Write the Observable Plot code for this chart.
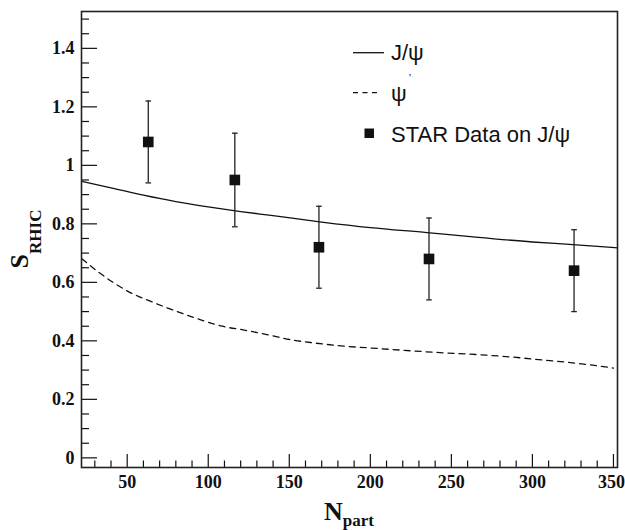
<!DOCTYPE html>
<html>
<head>
<meta charset="utf-8">
<script src="https://cdn.jsdelivr.net/npm/d3@7"></script>
<script src="https://cdn.jsdelivr.net/npm/@observablehq/plot@0.6"></script>
<style>
  body { margin: 0; background: #fff; }
</style>
</head>
<body>
<div id="chart"></div>
<script>
// ---- Data ----
// J/psi theory curve (solid)
const jpsiN = [22, 40, 60, 80, 100, 120, 140, 170, 200, 235, 260, 300, 325, 352.5];
const jpsiS = [0.945, 0.923, 0.898, 0.876, 0.858, 0.842, 0.828, 0.806, 0.787, 0.770, 0.757, 0.738, 0.729, 0.718];
// psi' theory curve (dashed)
const psiN = [22, 33.5, 40.7, 53, 65.4, 79.8, 94.2, 108.6, 123, 137.4, 150.8, 165, 183.7, 204.3, 224.8, 245.4, 266, 286.6, 307.2, 327.8, 350];
const psiS = [0.681, 0.630, 0.602, 0.562, 0.533, 0.502, 0.474, 0.450, 0.436, 0.420, 0.404, 0.393, 0.382, 0.374, 0.366, 0.359, 0.353, 0.345, 0.334, 0.323, 0.307];
// STAR data on J/psi
const starN  = [63, 116.4, 168.3, 236.2, 325.7];
const starS  = [1.08, 0.95, 0.72, 0.68, 0.64];
const starHi = [1.22, 1.11, 0.86, 0.82, 0.78];
const starLo = [0.94, 0.79, 0.58, 0.54, 0.50];
// axes ticks
const xMajor = [50, 100, 150, 200, 250, 300, 350];
const xMinor = [30, 40, 60, 70, 80, 90, 110, 120, 130, 140, 160, 170, 180, 190, 210, 220, 230, 240, 260, 270, 280, 290, 310, 320, 330, 340];
const yMajor = [0, 0.2, 0.4, 0.6, 0.8, 1, 1.2, 1.4];
const yMinor = [0.05, 0.1, 0.15, 0.25, 0.3, 0.35, 0.45, 0.5, 0.55, 0.65, 0.7, 0.75, 0.85, 0.9, 0.95, 1.05, 1.1, 1.15, 1.25, 1.3, 1.35, 1.45, 1.5];
const legendLabels = ["J/ψ", "ψ", "STAR Data on J/ψ"];
const xTitle = ["N", "part"];
const yTitle = ["S", "RHIC"];

// ---- Build tables ----
const jpsi = jpsiN.map((n, i) => ({n, s: jpsiS[i]}));
const psi = psiN.map((n, i) => ({n, s: psiS[i]}));
const star = starN.map((n, i) => ({n, s: starS[i], hi: starHi[i], lo: starLo[i]}));

const W = 625, H = 530, mL = 81, mR = 8, mT = 11, mB = 63;
const pw = W - mL - mR, ph = H - mT - mB;
const ink = "#111";
const serif = "'Liberation Serif', 'Times New Roman', serif";
const sans = "'Liberation Sans', Arial, sans-serif";

const capSymbol = {
  draw(ctx, size) {
    const h = Math.sqrt(size / Math.PI);
    ctx.moveTo(-h, 0);
    ctx.lineTo(h, 0);
  }
};

const chart = Plot.plot({
  width: W, height: H,
  marginLeft: mL, marginRight: mR, marginTop: mT, marginBottom: mB,
  style: {fontFamily: serif, fontWeight: "bold", fontSize: "18px", color: ink, background: "#fff", overflow: "visible"},
  x: {domain: [21.8, 352.5]},
  y: {domain: [-0.033, 1.526]},
  marks: [
    Plot.tickX(xMinor, {x: d => d, insetTop: ph - 6.5, stroke: ink, strokeWidth: 1.2}),
    Plot.tickX(xMajor, {x: d => d, insetTop: ph - 13, stroke: ink, strokeWidth: 1.2}),
    Plot.tickY(yMinor, {y: d => d, insetRight: pw - 8, stroke: ink, strokeWidth: 1.2}),
    Plot.tickY(yMajor, {y: d => d, insetRight: pw - 16, stroke: ink, strokeWidth: 1.2}),
    Plot.axisX({ticks: xMajor.slice(0, -1), tickSize: 0, tickPadding: 8, tickFormat: d => String(d), label: null, fontSize: 18, fontWeight: "bold"}),
    Plot.axisX({ticks: xMajor.slice(-1), tickSize: 0, tickPadding: 8, dx: -2, tickFormat: d => String(d), label: null, fontSize: 18, fontWeight: "bold"}),
    Plot.axisY({ticks: yMajor, tickSize: 0, tickPadding: 7, tickFormat: d => String(+d.toFixed(2)), label: null, fontSize: 18, fontWeight: "bold"}),
    Plot.line(jpsi, {x: "n", y: "s", stroke: ink, strokeWidth: 1.3, curve: "monotone-x"}),
    Plot.line(psi, {x: "n", y: "s", stroke: ink, strokeWidth: 1.3, strokeDasharray: "6,5", curve: "monotone-x"}),
    Plot.ruleX(star, {x: "n", y1: "lo", y2: "hi", stroke: "#222", strokeWidth: 1.3}),
    Plot.dot(star, {x: "n", y: "hi", symbol: capSymbol, r: 2.8, stroke: "#222", strokeWidth: 1.3}),
    Plot.dot(star, {x: "n", y: "lo", symbol: capSymbol, r: 2.8, stroke: "#222", strokeWidth: 1.3}),
    Plot.dot(star, {x: "n", y: "s", symbol: "square", r: 6, fill: ink, stroke: "none"}),
    Plot.frame({stroke: "#222", strokeWidth: 1.6})
  ]
});

const svg = d3.select(chart);

// X title: N_part
const xt = svg.append("text")
  .attr("x", mL + pw / 2).attr("y", 520)
  .attr("text-anchor", "middle").attr("font-weight", "bold").attr("fill", ink)
  .style("font-family", serif);
xt.append("tspan").attr("font-size", 26).text(xTitle[0]);
xt.append("tspan").attr("font-size", 17).attr("dy", 6).text(xTitle[1]);

// Y title: S_RHIC
const yt = svg.append("text")
  .attr("transform", `translate(27.5, ${mT + ph / 2}) rotate(-90)`)
  .attr("text-anchor", "middle").attr("font-weight", "bold").attr("fill", ink)
  .style("font-family", serif);
yt.append("tspan").attr("font-size", 26).text(yTitle[0]);
yt.append("tspan").attr("font-size", 17).attr("dy", 13).text(yTitle[1]);

// Legend
const lg = svg.append("g").attr("fill", ink)
  .attr("text-anchor", "start").attr("font-weight", "normal")
  .style("font-family", sans).style("font-weight", "normal");
lg.append("line").attr("x1", 353).attr("x2", 384).attr("y1", 52.7).attr("y2", 52.7)
  .attr("stroke", ink).attr("stroke-width", 1.3);
lg.append("text").attr("x", 391).attr("y", 60).attr("font-size", 22)
  .text(legendLabels[0]);
lg.append("line").attr("x1", 353).attr("x2", 381).attr("y1", 92.7).attr("y2", 92.7)
  .attr("stroke", ink).attr("stroke-width", 1.3).attr("stroke-dasharray", "5,4.5");
const t2 = lg.append("text").attr("x", 391).attr("y", 100.5).attr("font-size", 22);
t2.append("tspan").text(legendLabels[1]);
t2.append("tspan").attr("font-size", 11).attr("dx", 2).attr("dy", -19).text("’");
lg.append("rect").attr("x", 364.5).attr("y", 128.5).attr("width", 9.5).attr("height", 9.5).attr("fill", ink);
lg.append("text").attr("x", 391).attr("y", 141.5).attr("font-size", 22)
  .text(legendLabels[2]);

document.getElementById("chart").appendChild(chart);
</script>
</body>
</html>
